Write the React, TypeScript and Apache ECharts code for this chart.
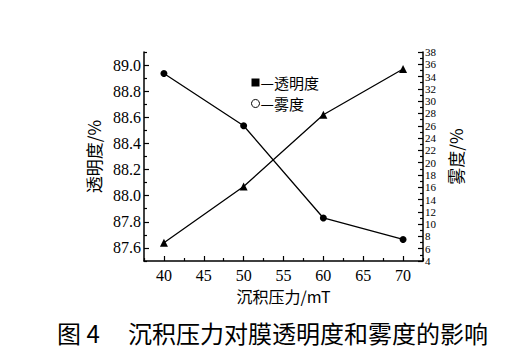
import React, { useEffect, useRef } from "react";
import * as echarts from "echarts";

const pressure = [40, 50, 60, 70];
const transparency = [87.64, 88.07, 88.62, 88.97];
const haze = [34.5, 26.0, 11.0, 7.5];

const xMajor = [40, 45, 50, 55, 60, 65, 70];
const xMinor = [37.5, 42.5, 47.5, 52.5, 57.5, 62.5, 67.5, 72.5];
const leftMajor = [87.6, 87.8, 88.0, 88.2, 88.4, 88.6, 88.8, 89.0];
const leftMinor = [87.5, 87.7, 87.9, 88.1, 88.3, 88.5, 88.7, 88.9, 89.1];
const rightMajor = [4, 6, 8, 10, 12, 14, 16, 18, 20, 22, 24, 26, 28, 30, 32, 34, 36, 38];
const rightMinor = [5, 7, 9, 11, 13, 15, 17, 19, 21, 23, 25, 27, 29, 31, 33, 35, 37];

const serif = '"Liberation Serif", "DejaVu Serif", serif';
const cjk = '"Noto Sans CJK SC", sans-serif';

export default function App() {
  const ref = useRef<HTMLDivElement>(null);
  useEffect(() => {
    if (!ref.current) return;
    const chart = echarts.init(ref.current, undefined, { renderer: "svg" });
    const black = "#000";
    const minorAxisBase = {
      type: "value",
      axisLine: { show: false },
      axisLabel: { show: false },
      splitLine: { show: false },
    };
    chart.setOption({
      animation: false,
      backgroundColor: "#fff",
      grid: { left: 144, right: 101, top: 52, bottom: 97 },
      legend: {
        orient: "vertical",
        left: 246,
        top: 70,
        itemWidth: 8,
        itemHeight: 8,
        itemGap: 6,
        formatter: (n: string) => "—" + n,
        textStyle: { fontFamily: cjk, fontSize: 15, color: black, padding: [0, 0, 0, -4] },
        data: [
          { name: "透明度", icon: "rect", itemStyle: { color: black } },
          {
            name: "雾度",
            icon: "circle",
            itemStyle: { color: "#fff", borderColor: black, borderWidth: 1 },
          },
        ],
      },
      xAxis: [
        {
          type: "value",
          min: 37.5,
          max: 72.5,
          position: "bottom",
          axisLine: { lineStyle: { color: black, width: 1.5 } },
          axisTick: { inside: true, length: 5, customValues: xMajor, lineStyle: { color: black, width: 1.2 } },
          axisLabel: { customValues: xMajor, color: black, fontFamily: serif, fontSize: 16, margin: 6 },
          splitLine: { show: false },
          name: "沉积压力/mT",
          nameLocation: "middle",
          nameGap: 24,
          nameTextStyle: { fontFamily: cjk, fontSize: 16, color: black },
        },
        {
          ...minorAxisBase,
          min: 37.5,
          max: 72.5,
          position: "bottom",
          axisTick: { inside: true, length: 3, customValues: xMinor, lineStyle: { color: black, width: 1.2 } },
        },
      ],
      yAxis: [
        {
          type: "value",
          min: 87.5,
          max: 89.1,
          position: "left",
          axisLine: { show: true, lineStyle: { color: black, width: 1.5 } },
          axisTick: { show: true, inside: true, length: 5, customValues: leftMajor, lineStyle: { color: black, width: 1.2 } },
          axisLabel: {
            customValues: leftMajor,
            color: black,
            fontFamily: serif,
            fontSize: 16,
            margin: 3,
            formatter: (v: number) => v.toFixed(1),
          },
          splitLine: { show: false },
          name: "透明度/%",
          nameLocation: "middle",
          nameGap: 38,
          nameRotate: 90,
          nameTextStyle: { fontFamily: cjk, fontSize: 17, color: black },
        },
        {
          type: "value",
          min: 4,
          max: 38,
          position: "right",
          axisLine: { show: true, lineStyle: { color: black, width: 1.5 } },
          axisTick: { show: true, inside: true, length: 5, customValues: rightMajor, lineStyle: { color: black, width: 1.2 } },
          axisLabel: {
            customValues: rightMajor,
            showMinLabel: true,
            showMaxLabel: true,
            color: black,
            fontFamily: serif,
            fontSize: 11,
            lineHeight: 11,
            margin: 2,
          },
          splitLine: { show: false },
          name: "雾度/%",
          nameLocation: "middle",
          nameGap: 24,
          nameRotate: 90,
          nameTextStyle: { fontFamily: cjk, fontSize: 17, color: black },
        },
        {
          ...minorAxisBase,
          min: 87.5,
          max: 89.1,
          position: "left",
          axisTick: { show: true, inside: true, length: 3, customValues: leftMinor, lineStyle: { color: black, width: 1.2 } },
        },
        {
          ...minorAxisBase,
          min: 4,
          max: 38,
          position: "right",
          axisTick: { show: true, inside: true, length: 3, customValues: rightMinor, lineStyle: { color: black, width: 1.2 } },
        },
      ],
      series: [
        {
          name: "透明度",
          type: "line",
          xAxisIndex: 0,
          yAxisIndex: 0,
          data: pressure.map((p, i) => [p, transparency[i]]),
          symbol: "triangle",
          symbolSize: 8,
          itemStyle: { color: black },
          lineStyle: { color: black, width: 1.3 },
        },
        {
          name: "雾度",
          type: "line",
          xAxisIndex: 0,
          yAxisIndex: 1,
          data: pressure.map((p, i) => [p, haze[i]]),
          symbol: "circle",
          symbolSize: 7,
          itemStyle: { color: black },
          lineStyle: { color: black, width: 1.3 },
        },
      ],
      graphic: [
        {
          type: "text",
          left: 57,
          top: 320,
          style: { text: "图 4", font: `24px ${cjk}`, fill: black },
        },
        {
          type: "text",
          left: 128,
          top: 320,
          style: { text: "沉积压力对膜透明度和雾度的影响", font: `24px ${cjk}`, fill: black },
        },
      ],
    });
    return () => chart.dispose();
  }, []);
  return (
    <div
      ref={ref}
      style={{ position: "fixed", left: 0, top: 0, width: 524, height: 358 }}
    />
  );
}
